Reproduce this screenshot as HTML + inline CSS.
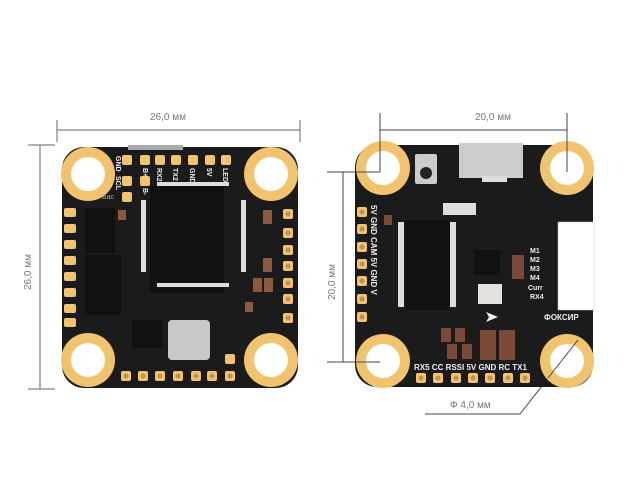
<!DOCTYPE html>
<html><head><meta charset="utf-8"><style>
html,body{margin:0;padding:0;background:#fff;}
svg{display:block}
text{font-family:"Liberation Sans",sans-serif;}
</style></head><body>
<svg width="641" height="485" viewBox="0 0 641 485" xmlns="http://www.w3.org/2000/svg">
<defs>
<g id="hole"><circle r="27" fill="#f2c36e"/><circle r="17" fill="#fff"/></g>
<g id="pad"><rect x="-5" y="-5" width="10" height="10" rx="2" fill="#f2c36e"/></g>
<g id="rpad"><rect x="-5" y="-5" width="10" height="10" rx="2" fill="#f2c36e"/><circle r="2.5" fill="#bb9550"/></g>
</defs>
<!-- LEFT dims -->
<g stroke="#666" stroke-width="1" fill="none">
<line x1="57" y1="130" x2="300" y2="130"/><line x1="57" y1="120" x2="57" y2="142"/><line x1="300" y1="120" x2="300" y2="142"/>
<line x1="40" y1="145" x2="40" y2="389"/><line x1="28" y1="145" x2="55" y2="145"/><line x1="28" y1="389" x2="55" y2="389"/>
</g>
<text x="150" y="120" font-size="10" fill="#777">26,0 мм</text>
<text transform="translate(31,290) rotate(-90)" font-size="10" fill="#777">26,0 мм</text>
<!-- LEFT board -->
<rect x="62" y="147" width="236" height="241" rx="22" fill="#1b1b1b"/>
<rect x="128" y="145" width="55" height="5" fill="#aaa"/>
<use href="#hole" x="88" y="174"/><use href="#hole" x="271" y="174"/>
<use href="#hole" x="88" y="360"/><use href="#hole" x="271" y="360"/>
<g>
<use href="#pad" x="127" y="160"/><use href="#pad" x="145" y="160"/><use href="#pad" x="160" y="160"/><use href="#pad" x="176" y="160"/><use href="#pad" x="193" y="160"/><use href="#pad" x="210" y="160"/><use href="#pad" x="226" y="160"/>
<use href="#pad" x="127" y="181"/><use href="#pad" x="145" y="181"/><use href="#pad" x="127" y="197"/>
</g>
<g fill="#f2c36e">
<rect x="64" y="208" width="12" height="9" rx="2"/><rect x="64" y="224" width="12" height="9" rx="2"/><rect x="64" y="240" width="12" height="9" rx="2"/><rect x="64" y="256" width="12" height="9" rx="2"/><rect x="64" y="272" width="12" height="9" rx="2"/><rect x="64" y="288" width="12" height="9" rx="2"/><rect x="64" y="304" width="12" height="9" rx="2"/><rect x="64" y="318" width="12" height="9" rx="2"/>
</g>
<g><use href="#rpad" x="288" y="214"/><use href="#rpad" x="288" y="233"/><use href="#rpad" x="288" y="250"/><use href="#rpad" x="288" y="266"/><use href="#rpad" x="288" y="283"/><use href="#rpad" x="288" y="299"/><use href="#rpad" x="288" y="318"/>
<use href="#rpad" x="126" y="376"/><use href="#rpad" x="143" y="376"/><use href="#rpad" x="160" y="376"/><use href="#rpad" x="178" y="376"/><use href="#rpad" x="196" y="376"/><use href="#rpad" x="212" y="376"/><use href="#rpad" x="230" y="376"/><use href="#pad" x="230" y="359"/></g>
<g font-size="7" font-weight="bold" fill="#eee">
<text transform="translate(143,168) rotate(90)">B+</text>
<text transform="translate(157,168) rotate(90)">RX2</text>
<text transform="translate(173,168) rotate(90)">TX2</text>
<text transform="translate(190,168) rotate(90)">GND</text>
<text transform="translate(207,168) rotate(90)">5V</text>
<text transform="translate(223,168) rotate(90)">LED</text>
<text transform="translate(143,188) rotate(90)">B-</text>
<text transform="translate(116,156) rotate(90)">GND</text>
<text transform="translate(116,176) rotate(90)">SCL</text>
</g>
<text x="102" y="199" font-size="7" fill="#aaa">Bac</text>
<rect x="150" y="185" width="74" height="108" fill="#111"/>
<g fill="#ddd"><rect x="157" y="182" width="72" height="4"/><rect x="157" y="283" width="72" height="4"/><rect x="141" y="200" width="5" height="72"/><rect x="241" y="200" width="5" height="72"/></g>
<rect x="85" y="208" width="30" height="45" fill="#111"/><rect x="85" y="255" width="36" height="60" fill="#111"/>
<rect x="168" y="320" width="42" height="40" rx="4" fill="#c8c8c8"/>
<rect x="132" y="320" width="30" height="28" fill="#111"/>
<g fill="#8b5a3c"><rect x="263" y="210" width="9" height="14"/><rect x="263" y="258" width="9" height="14"/><rect x="253" y="278" width="9" height="14"/><rect x="264" y="278" width="9" height="14"/><rect x="245" y="302" width="8" height="10"/><rect x="118" y="210" width="8" height="10"/></g>
<!-- RIGHT dims -->
<g stroke="#444" stroke-width="1" fill="none">
<line x1="380" y1="113" x2="380" y2="172"/><line x1="567" y1="113" x2="567" y2="172"/>
<line x1="380" y1="130" x2="567" y2="130"/>
<line x1="327" y1="172" x2="380" y2="172"/><line x1="343" y1="172" x2="343" y2="362"/><line x1="327" y1="362" x2="380" y2="362"/>
<line x1="578" y1="340" x2="520" y2="414"/><line x1="425" y1="414" x2="520" y2="414"/>
</g>
<text x="475" y="120" font-size="10" fill="#777">20,0 мм</text>
<text transform="translate(335,300) rotate(-90)" font-size="10" fill="#777">20,0 мм</text>
<text x="450" y="408" font-size="10" fill="#777">Ф 4,0 мм</text>
<!-- RIGHT board -->
<rect x="355" y="145" width="238" height="242" rx="22" fill="#1b1b1b"/>
<rect x="558" y="222" width="36" height="88" fill="#fff" stroke="#ccc" stroke-width="0.5"/>
<use href="#hole" x="383" y="168"/><use href="#hole" x="567" y="168"/>
<use href="#hole" x="383" y="361"/><use href="#hole" x="567" y="361"/>
<g stroke="#444" stroke-width="1"><line x1="380" y1="130" x2="380" y2="172"/><line x1="327" y1="172" x2="380" y2="172"/><line x1="567" y1="130" x2="567" y2="172"/><line x1="327" y1="362" x2="380" y2="362"/><line x1="578" y1="340" x2="548" y2="378"/></g>
<rect x="415" y="154" width="22" height="30" rx="2" fill="#ccc"/><circle cx="426" cy="173" r="6" fill="#222"/>
<rect x="459" y="143" width="64" height="35" fill="#ccc"/><rect x="482" y="176" width="25" height="6" fill="#ddd"/>
<rect x="443" y="203" width="33" height="12" fill="#ddd"/>
<g><use href="#rpad" x="362" y="212"/><use href="#rpad" x="362" y="229"/><use href="#rpad" x="362" y="247"/><use href="#rpad" x="362" y="264"/><use href="#rpad" x="362" y="281"/><use href="#rpad" x="362" y="299"/><use href="#rpad" x="362" y="317"/>
<use href="#rpad" x="421" y="378"/><use href="#rpad" x="438" y="378"/><use href="#rpad" x="456" y="378"/><use href="#rpad" x="473" y="378"/><use href="#rpad" x="490" y="378"/><use href="#rpad" x="508" y="378"/><use href="#rpad" x="525" y="378"/></g>
<text transform="translate(371,205) rotate(90)" font-size="8" font-weight="bold" fill="#eee">5V GND CAM 5V GND V</text>
<text x="414" y="370" font-size="8" font-weight="bold" fill="#eee">RX5 CC RSSI 5V GND RC TX1</text>
<g font-size="7" font-weight="bold" fill="#eee"><text x="530" y="253">M1</text><text x="530" y="262">M2</text><text x="530" y="271">M3</text><text x="530" y="280">M4</text><text x="528" y="290">Curr</text><text x="530" y="299">RX4</text></g>
<text x="544" y="320" font-size="8" font-weight="bold" fill="#eee">ФОКСИР</text>
<rect x="405" y="220" width="45" height="90" fill="#111"/>
<g fill="#ddd"><rect x="398" y="222" width="6" height="85"/><rect x="450" y="222" width="6" height="85"/></g>
<rect x="474" y="250" width="26" height="25" fill="#111"/>
<rect x="478" y="284" width="24" height="20" fill="#e4e0dc"/>
<path d="M486,312 l12,5 -12,5 3,-5z" fill="#eee"/>
<g fill="#7a4a36"><rect x="480" y="330" width="16" height="30"/><rect x="499" y="330" width="16" height="30"/><rect x="512" y="255" width="12" height="24"/><rect x="441" y="328" width="10" height="14"/><rect x="455" y="328" width="10" height="14"/><rect x="447" y="344" width="10" height="15"/><rect x="462" y="344" width="10" height="15"/><rect x="384" y="215" width="8" height="10"/></g>
</svg>
</body></html>
